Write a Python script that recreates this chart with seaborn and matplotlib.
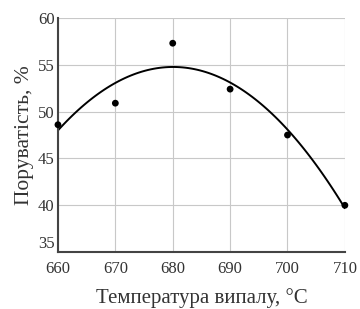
import matplotlib
matplotlib.use("Agg")
import matplotlib.pyplot as plt
import seaborn as sns
import pandas as pd

temperature = [660, 670, 680, 690, 700, 710]
porosity = [48.6, 50.9, 57.3, 52.4, 47.5, 40.0]

x_ticks = [660, 670, 680, 690, 700, 710]
y_ticks = [35, 40, 45, 50, 55, 60]

df = pd.DataFrame({"t": temperature, "p": porosity})

sns.set_style("white")
plt.rcParams["font.family"] = ["Liberation Serif", "DejaVu Serif"]

fig = plt.figure(figsize=(3.6, 3.09), dpi=100)
ax = fig.add_axes([0.161, 0.184, 0.797, 0.758])

# quadratic trend line through the points, then the points themselves
sns.regplot(data=df, x="t", y="p", order=2, ci=None, scatter=False, truncate=True,
            line_kws={"color": "black", "lw": 1.4}, ax=ax)
sns.scatterplot(data=df, x="t", y="p", color="black", s=24, edgecolor="none", zorder=5,
                clip_on=False, ax=ax)

ax.set_xlim(660, 710)
ax.set_ylim(35, 60)
ax.set_xticks(x_ticks)
ax.set_yticks(y_ticks)
ax.grid(True, color="#c8c8c8", lw=0.8)
ax.set_axisbelow(True)

for side in ["top", "right"]:
    ax.spines[side].set_visible(False)
for side in ["left", "bottom"]:
    ax.spines[side].set_color("#444444")
    ax.spines[side].set_linewidth(1.5)

ax.tick_params(axis="both", which="major", labelsize=12, colors="#444444",
               labelcolor="#333333", length=3, width=1, direction="inout")
ax.tick_params(axis="x", pad=5)
ax.tick_params(axis="y", pad=1)
# lift the bottom y label a little so it does not run into "660"
ax.get_yticklabels()[0].set_va("bottom")

ax.set_xlabel("Температура випалу, °C", fontsize=15, color="#333333", labelpad=8)
ax.set_ylabel("Поруватість, %", fontsize=15.5, color="#333333", labelpad=3)

fig.savefig("out.png", dpi=100)
